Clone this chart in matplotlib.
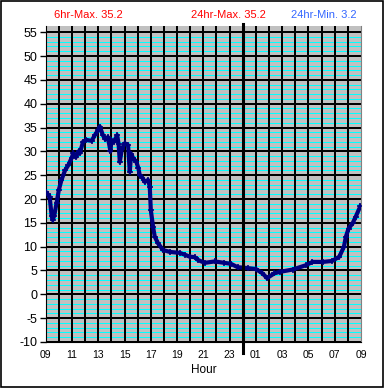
import matplotlib
matplotlib.use("Agg")
import matplotlib.pyplot as plt
from matplotlib.patches import Rectangle

# Hours elapsed since 09:00
hours = [0.0, 0.15, 0.3, 0.45, 0.53, 0.65, 0.83, 1.0, 1.2, 1.47, 1.72, 1.97, 2.1, 2.3,
         2.5, 2.6, 2.84, 3.1, 3.5, 3.74, 4.0, 4.12, 4.35, 4.55, 4.73, 4.93, 5.0, 5.2,
         5.44, 5.55, 5.64, 5.8, 6.02, 6.27, 6.4, 6.5, 6.65, 6.9, 7.05, 7.16, 7.35, 7.54,
         7.79, 7.92, 8.0, 8.17, 8.3, 8.55, 8.93, 9.44, 10.2, 10.6, 10.96, 11.34, 11.6,
         12.1, 12.86, 13.6, 14.1, 14.6, 15.4, 16.0, 16.5, 16.85, 17.4, 17.8, 18.8, 19.8,
         20.3, 21.1, 21.8, 22.35, 22.7, 22.85, 23.05, 23.36, 23.6, 23.95]
temps = [21.5, 21.0, 20.5, 16.5, 15.6, 16.5, 19.2, 21.9, 24.0, 26.0, 27.1, 28.6, 29.6, 28.8,
         30.0, 29.6, 32.0, 32.4, 32.2, 33.4, 34.5, 35.2, 33.4, 32.5, 33.0, 30.0, 32.4, 32.0,
         33.4, 31.5, 27.8, 30.5, 31.7, 31.3, 25.7, 29.5, 28.6, 27.8, 26.5, 25.0, 24.5, 23.6,
         24.0, 22.6, 17.7, 14.2, 12.1, 10.7, 9.3, 8.9, 8.7, 8.3, 7.9, 7.8, 7.2,
         6.6, 6.9, 6.6, 6.4, 5.7, 5.5, 5.3, 4.4, 3.4, 4.4, 4.7, 5.2, 6.1,
         6.8, 6.8, 7.0, 7.9, 10.0, 12.1, 13.8, 14.9, 16.3, 18.5]

xtick_pos = list(range(0, 25, 2))
xtick_labels = ["09", "11", "13", "15", "17", "19", "21", "23", "01", "03", "05", "07", "09"]
ytick_vals = list(range(-10, 56, 5))
titles = ["6hr-Max. 35.2", "24hr-Max. 35.2", "24hr-Min. 3.2"]
midnight = 15

plt.rcParams['font.family'] = ['Liberation Sans', 'DejaVu Sans']

fig = plt.figure(figsize=(3.85, 3.88), dpi=100)
fig.patch.set_facecolor("white")
fig.patches.append(Rectangle((0.002, 0.003), 0.994, 0.994, transform=fig.transFigure,
                             fill=False, edgecolor="black", linewidth=1.2))

ax = fig.add_axes([0.1187, 0.1186, 0.819, 0.8144])
ax.set_facecolor("#c0c0c0")
ax.set_xlim(0, 24)
ax.set_ylim(-10, 56.3)

# minor cyan lines every 1 unit
for v in range(-9, 56):
    if v % 5 != 0:
        ax.axhline(v, color="#00ffff", lw=0.72, zorder=1, antialiased=False)
for v in ytick_vals:
    ax.axhline(v, color="black", lw=1.44, zorder=2, antialiased=False)
for h in range(1, 24):
    ax.axvline(h, color="black", lw=1.44, zorder=2, antialiased=False)

ax.plot([midnight, midnight], [-12.4, 56.8], color="black", lw=2.2, clip_on=False, zorder=5)

ax.plot(hours, temps, color="#000080", lw=3.0, zorder=4)
ax.plot(hours, temps, color="#000080", lw=0, marker="+", ms=4.5, mew=1.2, zorder=4)

ax.set_yticks(ytick_vals)
ax.set_yticklabels([str(v) for v in ytick_vals], fontsize=9)
ax.set_xticks(xtick_pos)
ax.set_xticklabels(xtick_labels, fontsize=7.5)
ax.tick_params(axis="y", direction="out", length=4, width=1, color="black", pad=2)
ax.tick_params(axis="x", length=0, pad=6)

ax.spines["top"].set_visible(False)
ax.spines["right"].set_color("#808080")
ax.spines["left"].set_color("black")
ax.spines["bottom"].set_color("black")

ax.set_xlabel("Hour", fontsize=8.5, labelpad=3)

fig.text(88 / 385, 1 - 15 / 388, titles[0], color="#ff0000", fontsize=8, ha="center", va="center")
fig.text(228 / 385, 1 - 15 / 388, titles[1], color="#ff0000", fontsize=8, ha="center", va="center")
fig.text(324 / 385, 1 - 15 / 388, titles[2], color="#3366ff", fontsize=8, ha="center", va="center")

fig.savefig("out.png", dpi=100)
